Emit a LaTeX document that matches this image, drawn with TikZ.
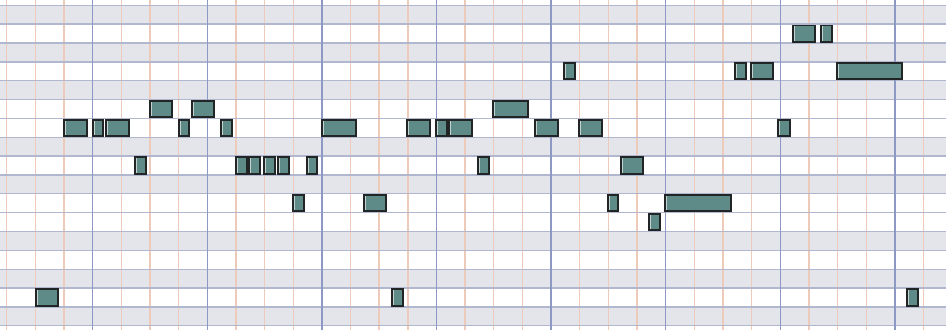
\documentclass[tikz,border=0pt]{standalone}
\usepackage{tikz}

\definecolor{rowgray}{RGB}{228,228,235}
\definecolor{hline}{RGB}{176,183,206}
\definecolor{beatline}{RGB}{238,202,186}
\definecolor{barline}{RGB}{142,152,196}
\definecolor{notefill}{RGB}{94,138,136}
\definecolor{noteedge}{RGB}{34,37,37}
\definecolor{notehi}{RGB}{196,210,208}

\tikzset{
  rowband/.style={fill=rowgray},
  rowrule/.style={draw=hline, line width=0.75pt},
  beatrule/.style={draw=beatline, line width=0.8pt},
  barrule/.style={draw=barline, line width=0.8pt},
  note/.style={fill=notefill, draw=noteedge, line width=1.1pt,
    path picture={\draw[notehi, line width=0.7pt]
      ([shift={(1.3pt,1.3pt)}]path picture bounding box.south west) |-
      ([shift={(-1.3pt,-1.3pt)}]path picture bounding box.north east);}}
}

\begin{document}
\begin{tikzpicture}[xscale=0.573, yscale=-0.377]
\useasboundingbox (-0.234,-0.281) rectangle (32.785,17.225);
\fill[white] (-0.234,-0.281) rectangle (32.785,17.225);
% black-key rows
\foreach \r in {0,2,4,7,9,12,14,16}
  \fill[rowband] (-0.234,\r) rectangle (32.785,\r+1);
% beats
\foreach \k in {0,...,32}
  \draw[beatrule] (\k,-0.281) -- (\k,17.225);
% rows
\foreach \r in {0,...,17}
  \draw[rowrule] (-0.234,\r) -- (32.785,\r);
% bars
\foreach \k in {3,7,...,31}
  \draw[barrule] (\k,-0.281) -- (\k,17.225);
% notes
\draw[note] (27.44,1.07) rectangle (28.21,1.93);
\draw[note] (28.42,1.07) rectangle (28.80,1.93);
\draw[note] (19.45,3.07) rectangle (19.83,3.93);
\draw[note] (25.42,3.07) rectangle (25.80,3.93);
\draw[note] (25.97,3.07) rectangle (26.74,3.93);
\draw[note] (28.97,3.07) rectangle (31.26,3.93);
\draw[note] (5.00,5.07) rectangle (5.78,5.93);
\draw[note] (6.48,5.07) rectangle (7.25,5.93);
\draw[note] (16.98,5.07) rectangle (18.18,5.93);
\draw[note] (2.00,6.07) rectangle (2.79,6.93);
\draw[note] (3.00,6.07) rectangle (3.37,6.93);
\draw[note] (3.48,6.07) rectangle (4.26,6.93);
\draw[note] (6.00,6.07) rectangle (6.37,6.93);
\draw[note] (7.48,6.07) rectangle (7.85,6.93);
\draw[note] (10.99,6.07) rectangle (12.19,6.93);
\draw[note] (13.98,6.07) rectangle (14.77,6.93);
\draw[note] (14.98,6.07) rectangle (15.36,6.93);
\draw[note] (15.44,6.07) rectangle (16.23,6.93);
\draw[note] (18.45,6.07) rectangle (19.23,6.93);
\draw[note] (19.99,6.07) rectangle (20.77,6.93);
\draw[note] (26.93,6.07) rectangle (27.34,6.93);
\draw[note] (4.48,8.07) rectangle (4.85,8.93);
\draw[note] (8.00,8.07) rectangle (8.38,8.93);
\draw[note] (8.46,8.07) rectangle (8.84,8.93);
\draw[note] (8.99,8.07) rectangle (9.36,8.93);
\draw[note] (9.48,8.07) rectangle (9.85,8.93);
\draw[note] (10.47,8.07) rectangle (10.84,8.93);
\draw[note] (16.46,8.07) rectangle (16.84,8.93);
\draw[note] (21.44,8.07) rectangle (22.22,8.93);
\draw[note] (10.00,10.07) rectangle (10.38,10.93);
\draw[note] (12.47,10.07) rectangle (13.24,10.93);
\draw[note] (20.98,10.07) rectangle (21.35,10.93);
\draw[note] (22.98,10.07) rectangle (25.28,10.93);
\draw[note] (22.43,11.07) rectangle (22.80,11.93);
\draw[note] (1.01,15.07) rectangle (1.80,15.93);
\draw[note] (13.46,15.07) rectangle (13.84,15.93);
\draw[note] (31.41,15.07) rectangle (31.80,15.93);
\end{tikzpicture}
\end{document}
